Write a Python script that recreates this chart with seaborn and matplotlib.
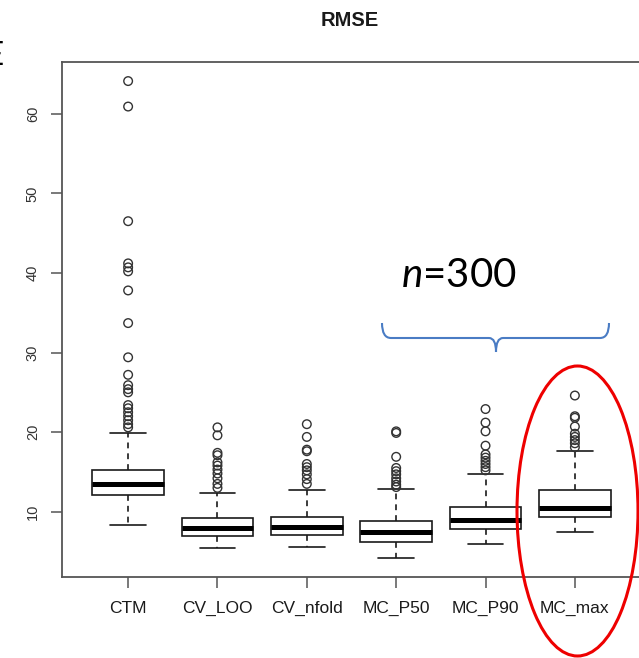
import matplotlib
matplotlib.use("Agg")
import matplotlib.pyplot as plt
from matplotlib.patches import Ellipse, PathPatch
from matplotlib.path import Path
import numpy as np
import pandas as pd
import seaborn as sns

# --- values ------------------------------------------------------------------
methods = ["CTM", "CV_LOO", "CV_nfold", "MC_P50", "MC_P90", "MC_max"]

whisker_low = [8.3, 5.4, 5.6, 4.2, 5.9, 7.5]
box_q1 = [12.1, 7.0, 7.1, 6.2, 7.8, 9.3]
median = [13.5, 8.0, 8.1, 7.4, 9.0, 10.5]
box_q3 = [15.3, 9.2, 9.4, 8.9, 10.6, 12.7]
whisker_high = [19.9, 12.4, 12.7, 12.9, 14.7, 17.6]

out_ctm = [64.1, 60.9, 46.5, 41.2, 40.7, 40.2, 37.8, 33.7, 29.4, 27.2,
           25.9, 25.4, 25.0, 23.4, 23.0, 22.5, 22.0, 21.5, 21.0, 20.6]
out_cv_loo = [20.6, 19.6, 17.4, 17.1, 16.2, 15.8, 15.3, 14.8, 14.2, 13.5, 13.0]
out_cv_nfold = [21.0, 19.4, 17.8, 17.6, 16.0, 15.6, 15.2, 14.7, 14.1, 13.5]
out_mc_p50 = [20.1, 19.9, 16.9, 15.5, 15.1, 14.7, 14.2, 13.8, 13.4, 13.1]
out_mc_p90 = [22.9, 21.2, 20.1, 18.3, 17.2, 16.8, 16.4, 16.0, 15.6, 15.2]
out_mc_max = [24.6, 22.0, 21.8, 20.7, 19.8, 19.4, 19.0, 18.6, 18.1]

outliers = [out_ctm, out_cv_loo, out_cv_nfold, out_mc_p50, out_mc_p90, out_mc_max]

# five-number summaries -> tiny table so seaborn draws the boxes itself
box_df = pd.DataFrame({
    "method": np.repeat(methods, 5),
    "rmse": np.column_stack([whisker_low, box_q1, median, box_q3, whisker_high]).ravel(),
})
flier_df = pd.DataFrame({
    "method": [m for m, vals in zip(methods, outliers) for _ in vals],
    "rmse": [v for vals in outliers for v in vals],
})

# --- figure ------------------------------------------------------------------
sns.set_theme(style="white")
plt.rcParams["font.family"] = ["Liberation Sans", "DejaVu Sans"]
plt.rcParams["mathtext.fontset"] = "custom"
plt.rcParams["mathtext.it"] = "Lato:italic"
plt.rcParams["mathtext.rm"] = "Lato"

W, H = 639, 658
fig = plt.figure(figsize=(W / 100, H / 100), dpi=100)
ax = fig.add_axes([62 / W, 1 - 577 / H, (641 - 62) / W, (577 - 62) / H])

sns.boxplot(
    data=box_df, x="method", y="rmse", order=methods, whis=np.inf, width=0.8,
    color="white", linecolor="#1a1a1a", linewidth=1.2, showfliers=False,
    whiskerprops=dict(linestyle=(0, (3.5, 3))),
    medianprops=dict(linewidth=3.6, color="black"),
    ax=ax,
)
sns.stripplot(
    data=flier_df, x="method", y="rmse", order=methods, jitter=False, size=6.2,
    facecolor="none", edgecolor="#333333", linewidth=1.0, ax=ax,
)

# R-style extent: 4% padding around the data range
all_vals = np.concatenate([whisker_low, whisker_high] + [np.array(o) for o in outliers])
lo, hi = all_vals.min(), all_vals.max()
pad = 0.04 * (hi - lo)
ax.set_ylim(lo - pad, hi + pad)
n = len(methods)
ax.set_xlim(-0.5 - 0.04 * n, n - 0.5 + 0.04 * n)

ax.set_yticks([10, 20, 30, 40, 50, 60])
ax.set_yticklabels(["10", "20", "30", "40", "50", "60"], rotation=90, va="center",
                   fontsize=10.5, color="#333333")
ax.set_xticks(range(n))
ax.set_xticklabels(methods, fontsize=12.5, color="#1a1a1a")
ax.set_xlabel("")
ax.set_ylabel("")
ax.tick_params(axis="both", direction="out", length=8, width=1.1, color="#555555",
               bottom=True, left=True)
ax.tick_params(axis="y", pad=8)
ax.tick_params(axis="x", pad=9)
for sp in ax.spines.values():
    sp.set_visible(True)
    sp.set_color("#555555")
    sp.set_linewidth(1.3)

fig.text(350 / W, 1 - 20 / H, "RMSE", ha="center", va="center",
         fontsize=14.5, fontweight="bold", color="#1a1a1a")

# --- overlay annotations -----------------------------------------------------
fig.text(4 / W, 1 - 56 / H, "E", ha="right", va="center", fontsize=24,
         family=["Lato", "DejaVu Sans"], color="black")

fig.text(401 / W, 1 - 287 / H, r"$n$=300", ha="left", va="baseline", fontsize=29,
         family=["Lato", "DejaVu Sans"], color="black")


def fig_xy(px, py):
    return (px / W, 1 - py / H)


brace = Path(
    [fig_xy(382, 323), fig_xy(382, 338), fig_xy(391, 338), fig_xy(489, 338),
     fig_xy(496, 338), fig_xy(496, 352),
     fig_xy(609, 323), fig_xy(609, 338), fig_xy(600, 338), fig_xy(503, 338),
     fig_xy(496, 338), fig_xy(496, 352)],
    [Path.MOVETO, Path.CURVE3, Path.CURVE3, Path.LINETO, Path.CURVE3, Path.CURVE3,
     Path.MOVETO, Path.CURVE3, Path.CURVE3, Path.LINETO, Path.CURVE3, Path.CURVE3],
)
fig.add_artist(PathPatch(brace, transform=fig.transFigure, fill=False,
                         edgecolor="#4a7cc4", linewidth=1.5))

fig.add_artist(Ellipse(fig_xy(577.5, 511), 121 / W, 290 / H, transform=fig.transFigure,
                       fill=False, edgecolor="#ee0000", linewidth=2.2))

fig.savefig("out.png", dpi=100)
